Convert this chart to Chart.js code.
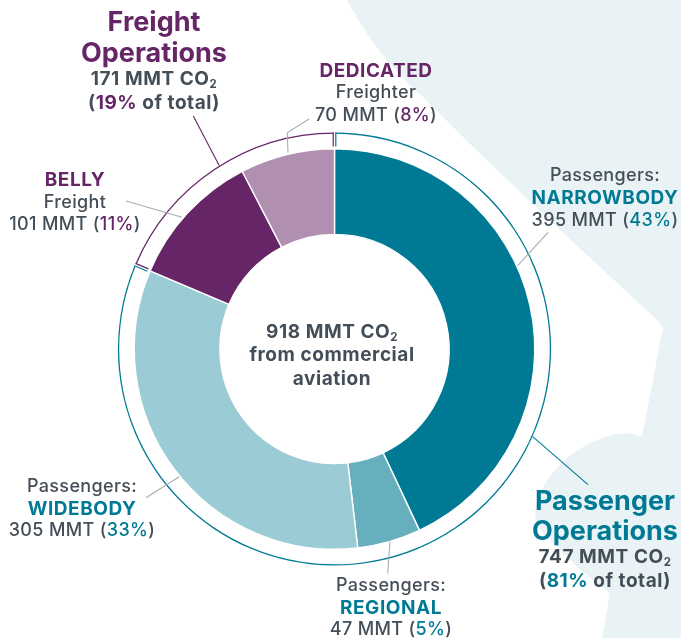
<!DOCTYPE html>
<html><head><meta charset="utf-8">
<script src="https://cdn.jsdelivr.net/npm/chart.js@4"></script>
<style>
html,body{margin:0;padding:0;background:#fff}
#wrap{position:relative;width:681px;height:638px;overflow:hidden;font-family:Inter,"Open Sans",sans-serif;color:#444e58}
canvas{position:absolute;left:0;top:0}
.t{position:absolute;white-space:nowrap;transform:translate(-50%,-50%);font-size:18px;letter-spacing:.35px;font-weight:500;line-height:1}
.big{font-size:27px;font-weight:700;letter-spacing:0}
.cap{font-size:19px;font-weight:700;letter-spacing:.55px}
.p{color:#652566}.c{color:#007a94}
sub{font-size:.6em;line-height:0;vertical-align:-.3em}
</style></head><body><div id="wrap"><canvas id="c" width="681" height="638"></canvas></div>
<script>
const segments=["Narrowbody","Regional","Widebody","Belly freight","Dedicated freighter"];
const segmentValues=[395,47,305,101,70];
const segmentColors=["#007a94","#66b0bd","#9bccd5","#652566","#b08fb0"];
const groups=["Passenger Operations","Freight Operations"];
const groupValues=[747,171];
const groupColors=["#007a94","#652566"];
const labels=[
 ["Freight",154,21,"big p"],["Operations",154,52,"big p"],
 ["171 MMT CO<sub>2</sub>",154,78,"cap"],['(<span class="p">19%</span> of total)',154,102,"cap"],
 ["DEDICATED",376,70,"cap p"],["Freighter",376,92,""],['70 MMT (<span class="p">8%</span>)',376,115,""],
 ["BELLY",75,179,"cap p"],["Freight",75,202,""],['101 MMT (<span class="p">11%</span>)',75,224,""],
 ["Passengers:",605,175,""],["NARROWBODY",605,197,"cap c"],['395 MMT (<span class="c">43%</span>)',605,220,""],
 ["Passenger",605,500,"big c"],["Operations",605,530,"big c"],
 ["747 MMT CO<sub>2</sub>",605,556,"cap"],['(<span class="c">81%</span> of total)',605,580,"cap"],
 ["Passengers:",391,585,""],["REGIONAL",391,607,"cap c"],['47 MMT (<span class="c">5%</span>)',391,629,""],
 ["Passengers:",82,486,""],["WIDEBODY",82,508,"cap c"],['305 MMT (<span class="c">33%</span>)',82,530,""],
 ["918 MMT CO<sub>2</sub>",332,331,"cap"],["from commercial",332,354,"cap"],["aviation",332,378,"cap"]
];
const wrap=document.getElementById('wrap');
labels.forEach(([h,x,y,k])=>{const d=document.createElement('div');d.className='t '+k;d.innerHTML=h;d.style.left=x+'px';d.style.top=y+'px';wrap.appendChild(d);});

const bgShape="M347 0 C 370 43 395 72 423 97 L 473 147 L 560 230 L 657 320 L 663 327 L 642 437 C 625 428 600 436 573 453 C 552 470 538 490 535 510 C 535 525 540 530 547 537 L 577 567 L 610 593 L 602 638 L 681 638 L 681 0 Z";
const leaders=[
 ["#652566",[[193.3,116],[219.3,165.7]]],
 ["#a9adb0",[[126,201],[182,217.3]]],
 ["#a9adb0",[[309.3,118.7],[287.3,132.7],[288,152.7]]],
 ["#a9adb0",[[548,232.3],[517.7,265.7]]],
 ["#007a94",[[532.7,436.7],[588,484.7]]],
 ["#a9adb0",[[390,541.7],[387.7,573.3]]],
 ["#a9adb0",[[179.3,476.7],[146,497.7]]]
];
const decor={id:'decor',
 beforeDraw(ch){const x=ch.ctx;x.save();x.fillStyle='#e9f3f5';x.fill(new Path2D(bgShape));x.restore();},
 afterDatasetsDraw(ch){
  const x=ch.ctx;x.save();
  const arcs=ch.getDatasetMeta(0).data;
  const cx=arcs[0].x,cy=arcs[0].y,R=arcs[0].outerRadius;
  const tick=(a,off,col)=>{const ux=Math.cos(a),uy=Math.sin(a),px=-uy*off,py=ux*off;
   x.beginPath();x.moveTo(cx+ux*R+px,cy+uy*R+py);x.lineTo(cx+ux*(R-14)+px,cy+uy*(R-14)+py);x.strokeStyle=col;x.lineWidth=col==='#fff'?3:1.2;x.stroke();};
  [arcs[0].startAngle,arcs[0].endAngle].forEach(a=>tick(a,0,'#fff'));
  tick(arcs[0].startAngle,1.3,groupColors[0]);tick(arcs[0].endAngle,-1.3,groupColors[0]);
  tick(arcs[1].startAngle,1.3,groupColors[1]);tick(arcs[1].endAngle,-1.3,groupColors[1]);
  leaders.forEach(([col,pts])=>{x.beginPath();pts.forEach((p,i)=>i?x.lineTo(p[0],p[1]):x.moveTo(p[0],p[1]));x.strokeStyle=col;x.lineWidth=1.1;x.stroke();});
  x.restore();
 }};
const cxT=334.5,cyT=349,Rt=216.6;
new Chart(document.getElementById('c'),{type:'doughnut',
 data:{labels:segments,datasets:[
  {data:groupValues,backgroundColor:groupColors,borderWidth:0,weight:1.3},
  {data:[1],backgroundColor:'rgba(0,0,0,0)',borderWidth:0,weight:15},
  {data:segmentValues,backgroundColor:segmentColors,borderColor:'#fff',borderWidth:1.4,weight:85.5}
 ]},
 options:{responsive:false,animation:false,cutout:'52.9%',
  layout:{padding:{left:cxT-Rt,right:681-cxT-Rt,top:cyT-Rt,bottom:638-cyT-Rt}},
  plugins:{legend:{display:false},tooltip:{enabled:false}}},
 plugins:[decor]});
</script></body></html>
